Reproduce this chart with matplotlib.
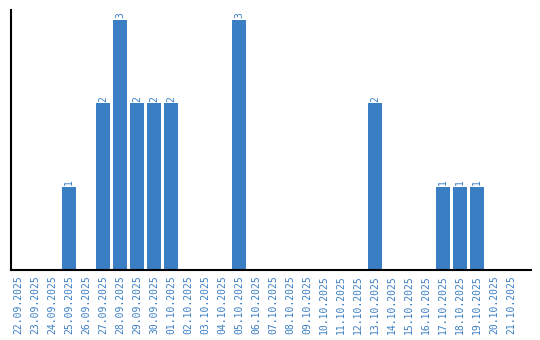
import matplotlib
matplotlib.use("Agg")
import matplotlib.pyplot as plt
import numpy as np

dates = ["22.09.2025","23.09.2025","24.09.2025","25.09.2025","26.09.2025","27.09.2025",
         "28.09.2025","29.09.2025","30.09.2025","01.10.2025","02.10.2025","03.10.2025",
         "04.10.2025","05.10.2025","06.10.2025","07.10.2025","08.10.2025","09.10.2025",
         "10.10.2025","11.10.2025","12.10.2025","13.10.2025","14.10.2025","15.10.2025",
         "16.10.2025","17.10.2025","18.10.2025","19.10.2025","20.10.2025","21.10.2025"]
values = [0,0,0,1,0,2,3,2,2,2,0,0,0,3,0,0,0,0,0,0,0,2,0,0,0,1,1,1,0,0]

color = "#3a7ec3"
font = "DejaVu Sans Mono"
fig = plt.figure(figsize=(5.4, 3.4), dpi=100)
ax = fig.add_axes([10.5/540, 1 - 270/340, (531-10.5)/540, 260/340])
x = np.arange(len(dates))
bars = ax.bar(x, values, width=0.82, color=color)
for xi, v in zip(x, values):
    if v > 0:
        ax.text(xi, v + 0.02, str(v), rotation=90, ha="center", va="bottom",
                color=color, fontsize=7, family=font)
ax.set_xlim(-0.44, 30.18)
ax.set_ylim(0, 3.12)
ax.set_xticks(x)
ax.set_xticklabels(dates, rotation=90, fontsize=7, color=color, family=font)
ax.tick_params(axis="x", length=0, pad=4)
ax.set_yticks([])
ax.spines["top"].set_visible(False)
ax.spines["right"].set_visible(False)
ax.spines["left"].set_linewidth(1.5)
ax.spines["bottom"].set_linewidth(1.5)
fig.savefig("out.png", dpi=100)
